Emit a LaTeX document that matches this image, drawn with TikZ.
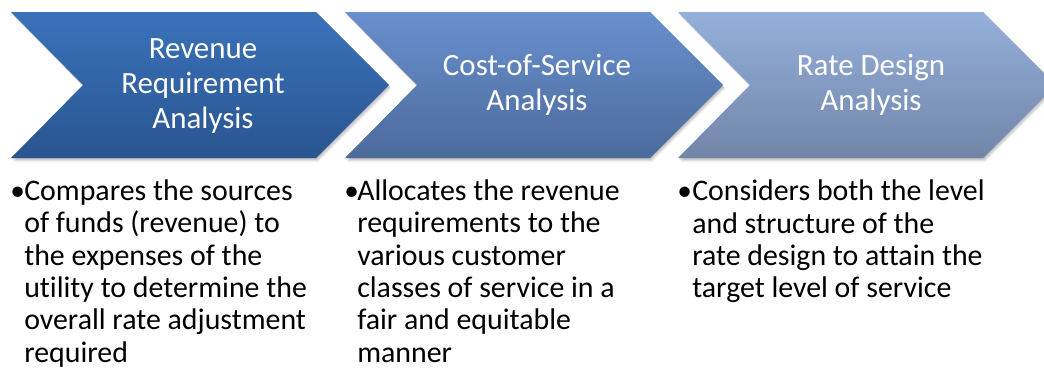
\documentclass[tikz,border=0pt]{standalone}
\usepackage{fontspec}
\setmainfont{Carlito}[Ligatures=NoCommon]
\begin{document}
\begin{tikzpicture}[x=0.75pt,y=-0.75pt,
  chevshadow/.style={fill=black,draw=none},
  title/.style={text=white,align=center,font=\fontsize{23.2pt}{25.9pt}\selectfont,inner sep=0pt},
  body/.style={text=black,align=left,font=\fontsize{22.4pt}{24.2pt}\selectfont,inner sep=0pt,anchor=base west},
  bullet/.style={text=black,font=\fontsize{22pt}{22pt}\selectfont,inner sep=0pt,anchor=base west}]
\useasboundingbox (0,0) rectangle (1044,368);
\clip (0,0) rectangle (1044,368);
\definecolor{aTop}{HTML}{3A72BA}\definecolor{aBot}{HTML}{2A5590}
\definecolor{bTop}{HTML}{6890CE}\definecolor{bBot}{HTML}{4C6A9C}
\definecolor{cTop}{HTML}{95B0DC}\definecolor{cBot}{HTML}{7185A8}
% chevron outline starting at left edge #1
\newcommand{\chevpath}[1]{(#1,12) -- ++(305,0) -- ++(73,73) -- ++(-73,73) -- ++(-305,0) -- ++(72,-73) -- cycle}
% soft shadows
\foreach \L in {11,345,678}{
  \foreach \d/\o in {4/0.05,3/0.07,2/0.08,1/0.08}{
    \fill[chevshadow,opacity=\o] ([shift={(\d*0.6,\d)}]\L,12) -- ++(305,0) -- ++(73,73) -- ++(-73,73) -- ++(-305,0) -- ++(72,-73) -- cycle;
  }
}
\shade[top color=aTop,bottom color=aBot] \chevpath{11};
\shade[top color=bTop,bottom color=bBot] \chevpath{345};
\shade[top color=cTop,bottom color=cBot] \chevpath{678};
% step titles (base anchor sits on the last line)
\node[title,anchor=base] (t1) at (203,128) {Revenue\\Requirement\\Analysis};
\node[title,anchor=base] (t2) at (537,110) {Cost-of-Service\\Analysis};
\node[title,anchor=base] (t3) at (871,110) {Rate Design\\Analysis};
% descriptions (base anchor sits on the last line)
\node[bullet] (b1) at (10,200) {•};
\node[body] (d1) at (24,362) {Compares the sources\\of funds (revenue) to\\the expenses of the\\utility to determine the\\overall rate adjustment\\required};
\node[bullet] (b2) at (344,200) {•};
\node[body] (d2) at (357,362) {Allocates the revenue\\requirements to the\\various customer\\classes of service in a\\fair and equitable\\manner};
\node[bullet] (b3) at (677,200) {•};
\node[body] (d3) at (692,297.6) {Considers both the level\\and structure of the\\rate design to attain the\\target level of service};
\end{tikzpicture}
\end{document}
